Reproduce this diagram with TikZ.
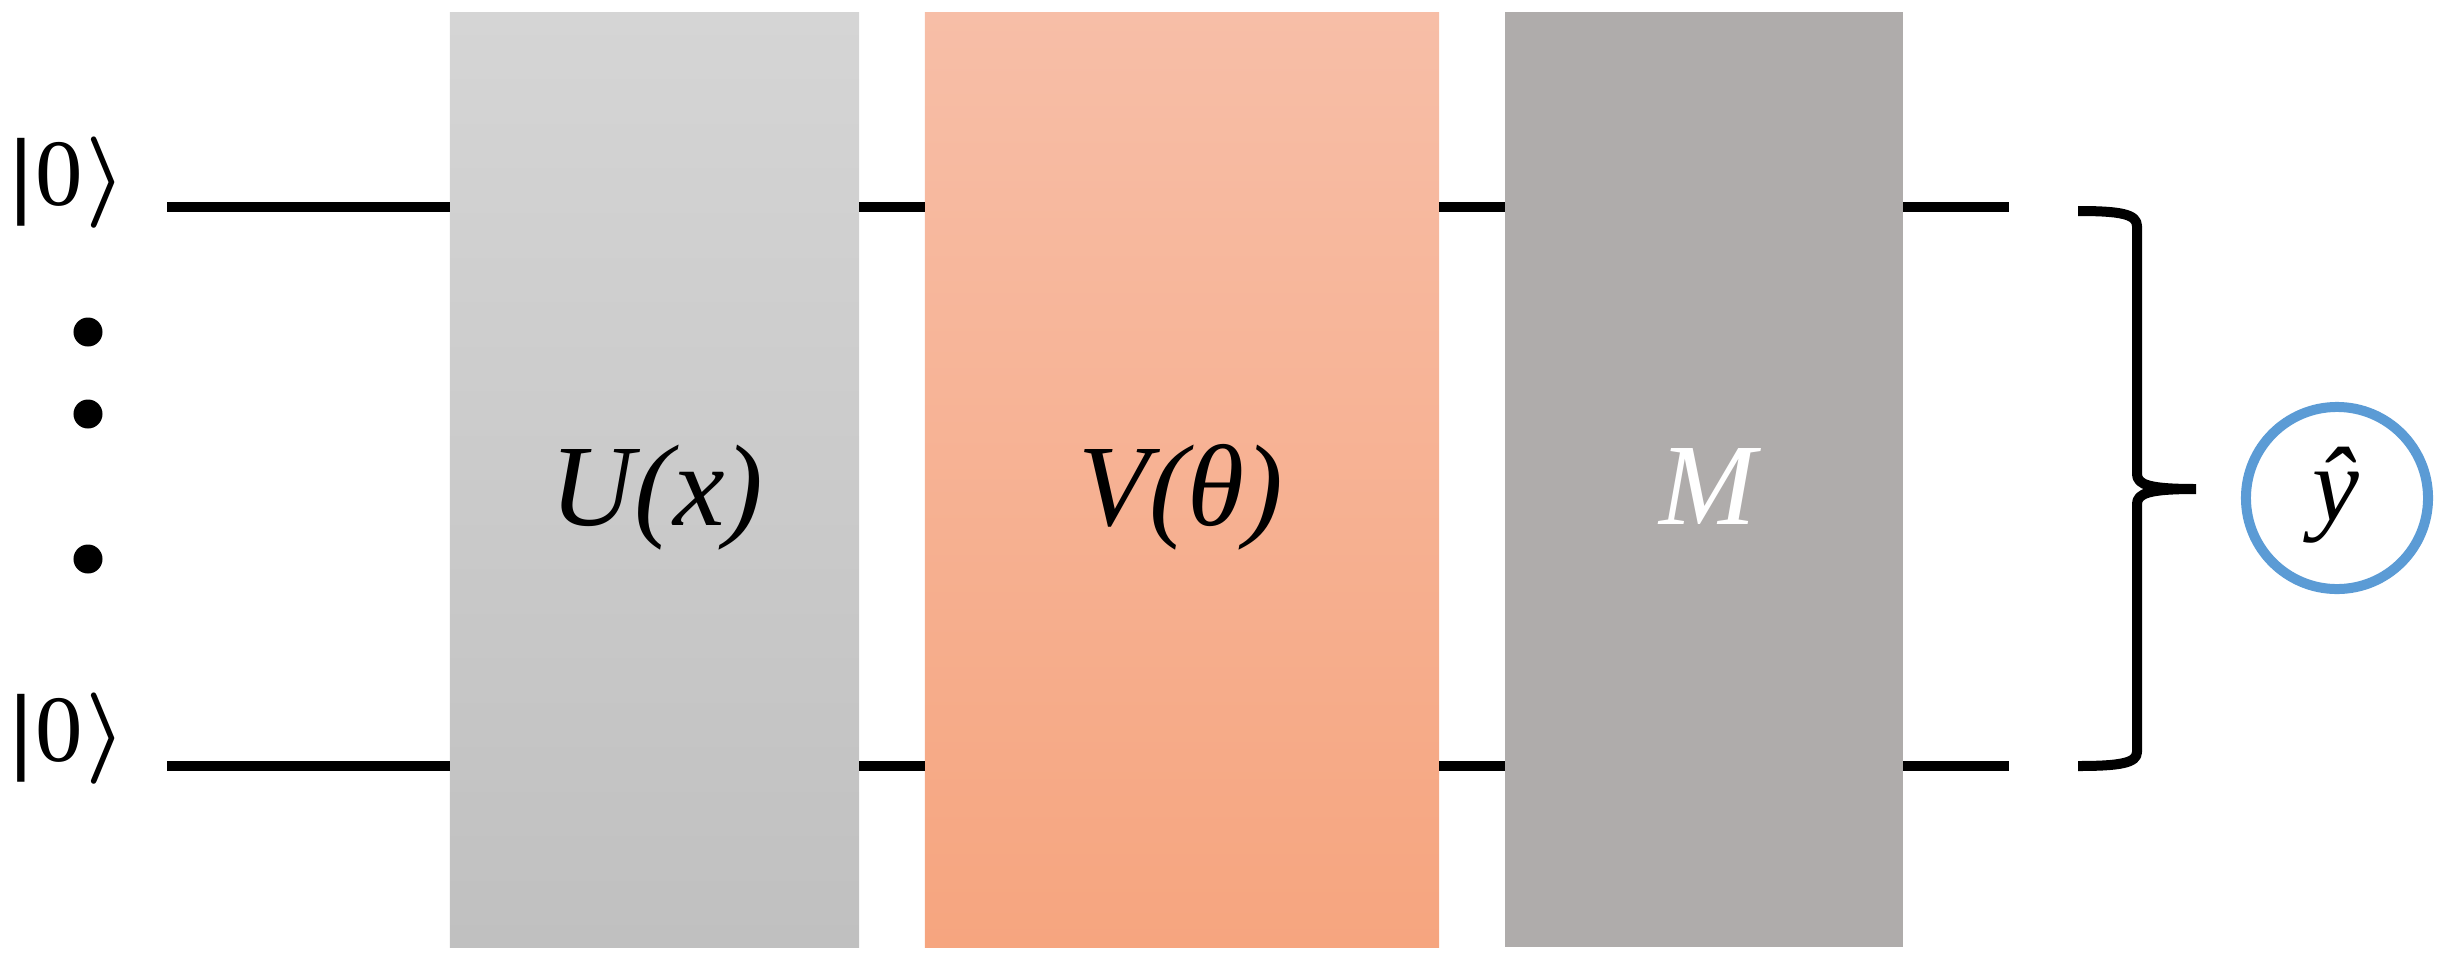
\RequirePackage{fix-cm}
\documentclass[tikz,border=0pt]{standalone}
\usepackage{fontspec}
\setmainfont{Liberation Serif}
\newfontfamily\dejavu{DejaVu Sans}
\definecolor{ugtop}{HTML}{D5D5D5}
\definecolor{ugbot}{HTML}{C0C0C0}
\definecolor{vgtop}{HTML}{F7BEA7}
\definecolor{vgbot}{HTML}{F6A57F}
\definecolor{mgray}{HTML}{AFACAB}
\definecolor{yblue}{HTML}{5B9BD5}
\newcommand{\ketzero}{{\fontsize{25}{28}\selectfont\dejavu |}\hspace{-0.01em}0\hspace{0.03em}{\fontsize{26}{28}\selectfont\boldmath$\rangle$}}
\tikzset{
  wire/.style={line width=1mm},
  gate/.style={draw=none, rectangle, inner sep=0pt, outer sep=0pt, minimum height=9.345cm},
  glabel/.style={font=\fontsize{33}{36}\selectfont\itshape, inner sep=0pt, anchor=base},
  ket/.style={font=\fontsize{27}{30}\selectfont, inner sep=0pt, anchor=base west},
  dotmark/.style={circle, fill=black, inner sep=0pt, minimum size=0.29cm},
  bracestyle/.style={line width=1mm, line join=round},
}
\begin{document}
\begin{tikzpicture}[x=0.01cm, y=-0.01cm]
\useasboundingbox (0,0) rectangle (2450,966);
% gates
\node[gate, top color=ugtop, bottom color=ugbot, minimum width=4.09cm] (U) at (654.5,479.75) {};
\node[gate, top color=vgtop, bottom color=vgbot, minimum width=5.14cm] (V) at (1182,479.75) {};
\node[gate, fill=mgray, minimum width=3.98cm] (M) at (1704,479.75) {};
% gate labels
\node[glabel] (Ulab) at (657,525) {U(x)};
\node[glabel] (Vlab) at (1181,525) {V(θ)};
\node[glabel, text=white] (Mlab) at (1708,524) {M};
% kets
\node[ket] (k1) at (6,205) {\ketzero};
\node[ket] (k2) at (6,761) {\ketzero};
% dots
\node[dotmark] (d1) at (88,332) {};
\node[dotmark] (d2) at (88,414) {};
\node[dotmark] (d3) at (88,559) {};
% wire ends
\coordinate (t0) at (167,207);
\coordinate (b0) at (167,766);
\coordinate (t4) at (2009,207);
\coordinate (b4) at (2009,766);
% wires
\draw[wire] (t0) -- (t0 -| U.west);
\draw[wire] (U.east |- t0) -- (V.west |- t0);
\draw[wire] (V.east |- t0) -- (M.west |- t0);
\draw[wire] (M.east |- t4) -- (t4);
\draw[wire] (b0) -- (b0 -| U.west);
\draw[wire] (U.east |- b0) -- (V.west |- b0);
\draw[wire] (V.east |- b0) -- (M.west |- b0);
\draw[wire] (M.east |- b4) -- (b4);
% brace
\coordinate (bt) at (2078,211);
\coordinate (bb) at (2078,766);
\coordinate (btip) at (2196,489);
\draw[bracestyle] (bt) .. controls (2120,211) and (2137,214) .. (2137,226) -- (2137,474)
  .. controls (2137,485) and (2150,489) .. (btip)
  (btip) .. controls (2150,489) and (2137,493) .. (2137,504) -- (2137,752)
  .. controls (2137,763) and (2120,766) .. (bb);
% output
\node[circle, draw=yblue, line width=1mm, minimum size=1.82cm, inner sep=0pt] (yhat) at (2337,498) {};
\node[font=\fontsize{30}{32}\selectfont\itshape, inner sep=0pt, anchor=base] (ylab) at (2336,520) {ŷ};
\end{tikzpicture}
\end{document}
